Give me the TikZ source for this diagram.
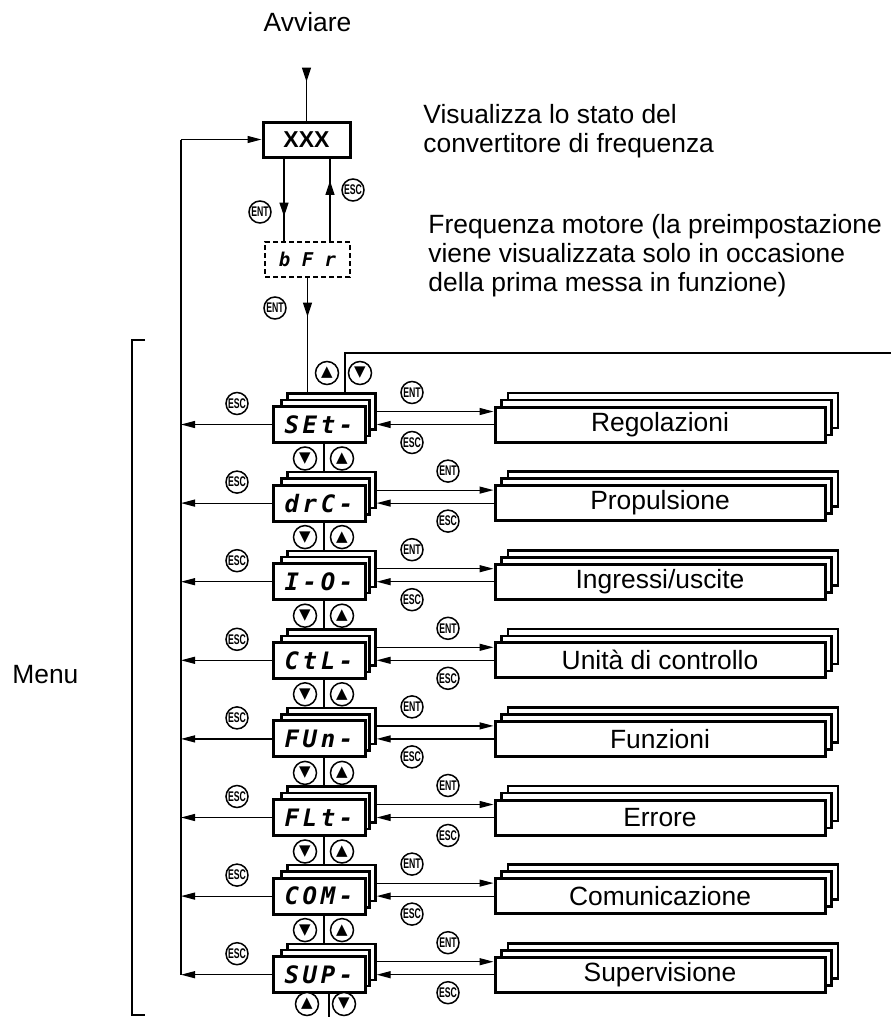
\documentclass[tikz,border=0pt]{standalone}
\usepackage{fontspec}
\usepackage{graphicx}
\setmainfont{Liberation Sans}
\newfontfamily\segfont[LetterSpace=15]{DejaVu Sans Mono Bold Oblique}
\newfontfamily\segplain{DejaVu Sans Mono Bold Oblique}
\newfontfamily\symfont{DejaVu Sans}
\usetikzlibrary{arrows.meta,decorations.markings,calc}
\newcommand{\keytxt}[1]{\scalebox{0.62}[1]{#1}}
\tikzset{
  conn/.style      = {line width=0.6pt},
  arr/.style       = {conn, -{Triangle[length=7pt,width=3.5pt]}},
  midarr/.style    = {conn, decoration={markings,
                      mark=at position #1 with {\arrow{Triangle[length=7pt,width=4.5pt]}}},
                      postaction={decorate}},
  txt/.style       = {font=\fontsize{13.2}{14.5}\selectfont, inner sep=0pt},
  xbox/.style      = {rectangle, draw, line width=1.5pt, minimum width=43.5pt,
                      minimum height=17.5pt, inner sep=0pt,
                      font=\bfseries\fontsize{11.5}{11.5}\selectfont},
  bfrbox/.style    = {rectangle, draw, line width=0.6pt, dash pattern=on 2.5pt off 1.5pt,
                      minimum width=42.5pt, minimum height=17.5pt, inner sep=0pt,
                      font=\segplain\fontsize{9.5}{9.5}\selectfont},
  disp/.style      = {rectangle, draw, line width=1.5pt, fill=white, minimum width=46pt,
                      minimum height=18pt, inner sep=0pt,
                      font=\segfont\fontsize{12}{12}\selectfont},
  displayer/.style = {rectangle, draw, line width=1.2pt, fill=white, minimum width=44pt,
                      minimum height=18pt, inner sep=0pt},
  menubox/.style   = {rectangle, draw, line width=1.5pt, fill=white, minimum width=165pt,
                      minimum height=17.5pt, inner sep=0pt,
                      font=\fontsize{13.2}{14.5}\selectfont},
  menulayer/.style = {rectangle, draw, line width=1.3pt, fill=white, minimum width=165pt,
                      minimum height=17.5pt, inner sep=0pt},
  btn/.style       = {circle, draw, line width=0.75pt, minimum size=11.5pt, inner sep=0pt,
                      fill=white, font=\symfont\fontsize{7.5}{7.5}\selectfont},
  key/.style       = {circle, draw, line width=0.75pt, minimum size=11pt, inner sep=0pt,
                      fill=white, font=\bfseries\fontsize{7}{7}\selectfont},
}
\begin{document}
\begin{tikzpicture}[x=0.5pt, y=-0.5pt]
  \useasboundingbox (0,0) rectangle (891,1017);

  \node[txt, anchor=base] (avv) at (307.5,32) {Avviare};
  \node[txt, anchor=base west, align=left] (vis) at (423,152)
    {Visualizza lo stato del\\convertitore di frequenza};
  \node[txt, anchor=base west, align=left] (frq) at (428,291)
    {Frequenza motore (la preimpostazione\\viene visualizzata solo in occasione\\della prima messa in funzione)};
  \node[txt, anchor=base west] (menu) at (12,683) {Menu};

  \node[xbox] (xxx) at (306.5,139.5) {XXX};
  \node[bfrbox] (bfr) at (307.5,259.5) {b F r};

  \foreach \lab/\name/\kx [count=\i from 0] in
    {SEt-/Regolazioni/412, drC-/Propulsione/448, I-O-/Ingressi\slash uscite/412,
     CtL-/Unità di controllo/448, FUn-/Funzioni/412, FLt-/Errore/448,
     COM-/Comunicazione/412, SUP-/Supervisione/448} {
    \pgfmathsetmacro\c{424.5+78.6*\i}
    \node[displayer] (dc\i) at (331.5,\c-13) {};
    \node[displayer] (db\i) at (325.5,\c-6.5) {};
    \node[disp] (d\i) at (319,\c) {\lab};
    \node[menulayer] (mc\i) at (673,\c-14) {};
    \node[menulayer] (mb\i) at (666.5,\c-7) {};
    \node[menubox] (m\i) at (660,\c) {\name};
    \coordinate (l\i) at (181,\c);
    \draw[arr] (d\i.west) -- (l\i);
    \draw[arr] (dc\i.east) -- (dc\i.east -| m\i.west);
    \draw[arr] (m\i.west) -- (m\i.west -| dc\i.east);
    \node[key] (lesc\i) at (237,\c-21) {\keytxt{ESC}};
    \node[key] (rent\i) at (\kx,\c-32) {\keytxt{ENT}};
    \node[key] (resc\i) at (\kx,\c+18) {\keytxt{ESC}};
  }

  \foreach \i in {0,...,6} {
    \pgfmathtruncatemacro\j{\i+1}
    \pgfmathsetmacro\c{424.5+78.6*\i}
    \draw[conn] ([xshift=2.5pt]d\i.south) -- ([xshift=2.5pt]d\i.south |- dc\j.north);
    \node[btn] (dn\i) at (305,\c+34) {▼};
    \node[btn] (up\i) at (342,\c+34) {▲};
  }

  \coordinate (start) at (306.5,68);
  \coordinate (ret) at (181,139.5);
  \coordinate (wrapt) at (891,353);
  \coordinate (wrapb) at (329,1017);
  \draw[midarr=0.26] (start) -- (xxx.north);
  \draw[midarr=0.7] ([xshift=-11.25pt]xxx.south) -- ([xshift=-11.25pt]xxx.south |- bfr.north);
  \draw[midarr=0.73] ([xshift=11.75pt]xxx.south |- bfr.north) -- ([xshift=11.75pt]xxx.south);
  \draw[midarr=0.34] (bfr.south) -- (bfr.south |- dc0.north);
  \draw[arr] (ret) -- (xxx.west);
  \draw[conn] (ret) -- (l7);
  \draw[conn] ([xshift=6.75pt]dc0.north) |- (wrapt);
  \draw[conn] ([xshift=5pt]d7.south) -- (wrapb);

  \node[key] (kent) at (260,212) {\keytxt{ENT}};
  \node[key] (kesc) at (353,190) {\keytxt{ESC}};
  \node[key] (kent2) at (275,308) {\keytxt{ENT}};
  \node[btn] (upt) at (327,373) {▲};
  \node[btn] (dnt) at (360,373) {▼};
  \node[btn] (upb) at (307,1004) {▲};
  \node[btn] (dnb) at (344,1004) {▼};

  \draw[conn] (145,340) -- (132,340) -- (132,1015) -- (145,1015);
\end{tikzpicture}
\end{document}
